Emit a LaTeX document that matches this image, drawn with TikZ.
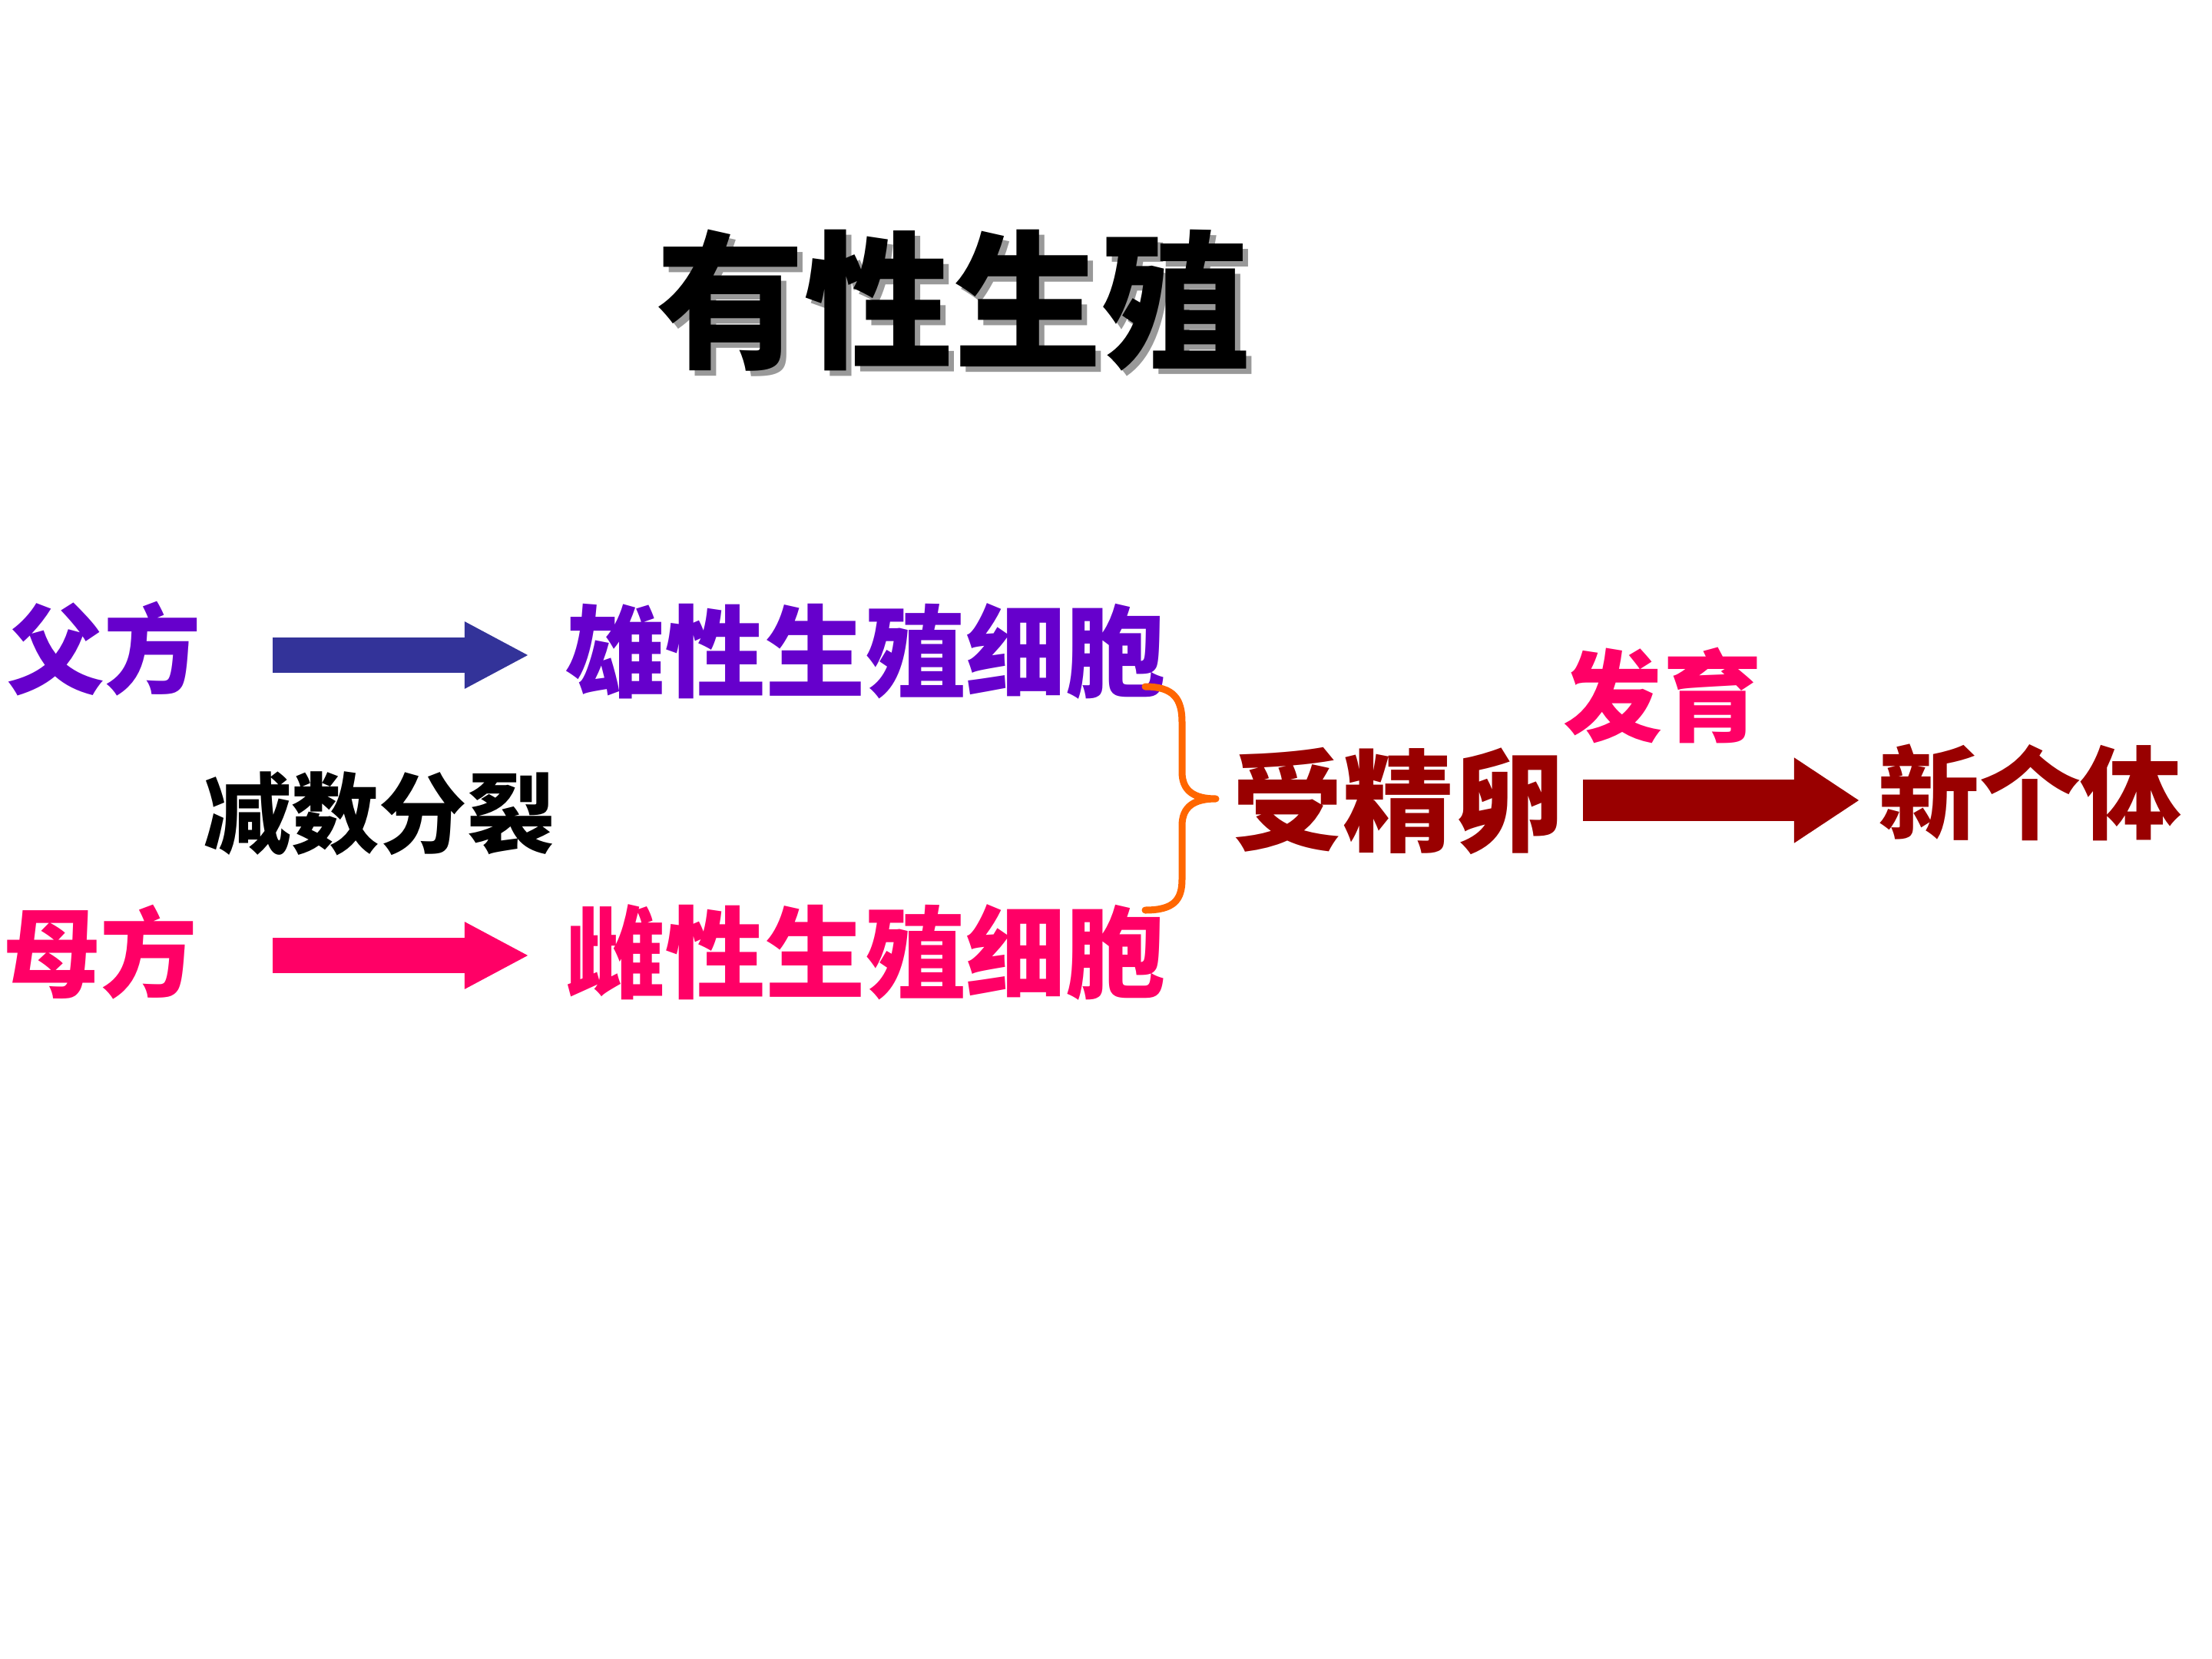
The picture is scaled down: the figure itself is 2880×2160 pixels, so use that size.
\documentclass[tikz,border=0pt]{standalone}
\usepackage{fontspec}
\newfontfamily\cjk{Noto Sans CJK SC}
\usetikzlibrary{arrows.meta}
\definecolor{cpurple}{HTML}{6600CC}
\definecolor{cpink}{HTML}{FF0066}
\definecolor{cdred}{HTML}{990000}
\definecolor{corange}{HTML}{FF6600}
\definecolor{cblue}{HTML}{333399}
\tikzset{
  txt/.style={inner sep=0pt, anchor=center, font=\cjk\bfseries},
  blockarrow/.style={line width=0.46cm, -{Triangle[length=0.84cm, width=0.81cm]}},
  bigarrow/.style={line width=0.53cm, -{Triangle[length=0.85cm, width=1.05cm]}},
  bracestyle/.style={draw=corange, line width=0.09cm, line cap=round, line join=round}
}
\newcommand{\shadowtext}[1]{\rlap{\kern0.07cm\raisebox{-0.07cm}{\textcolor{black!40}{#1}}}#1}
\begin{document}
\begin{tikzpicture}[x=0.01cm, y=-0.01cm]
\useasboundingbox[fill=white] (0,0) rectangle (2880,2160);
% title with shadow
\node[txt, text=black, font=\cjk\bfseries\fontsize{55pt}{60pt}\selectfont] (title) at (1241,395) {\shadowtext{有性生殖}};
% left column
\node[txt, text=cpurple, font=\cjk\bfseries\fontsize{36pt}{40pt}\selectfont] (fa) at (136,845) {父方};
\node[txt, text=cpink, font=\cjk\bfseries\fontsize{36pt}{40pt}\selectfont] (mu) at (131,1240) {母方};
\node[txt, text=black, font=\cjk\bfseries\fontsize{32.5pt}{36pt}\selectfont] (jian) at (494,1059) {减数分裂};
% gametes
\node[txt, text=cpurple, font=\cjk\bfseries\fontsize{37pt}{40pt}\selectfont] (xiong) at (1127,848) {雄性生殖细胞};
\node[txt, text=cpink, font=\cjk\bfseries\fontsize{37pt}{40pt}\selectfont] (ci) at (1127,1240) {雌性生殖细胞};
% zygote, development, new individual
\node[txt, text=cdred, font=\cjk\bfseries\fontsize{41pt}{44pt}\selectfont] (shou) at (1821,1043) {受精卵};
\node[txt, text=cpink, font=\cjk\bfseries\fontsize{36.7pt}{40pt}\selectfont] (fayu) at (2165,905) {发育};
\node[txt, text=cdred, font=\cjk\bfseries\fontsize{37.5pt}{40pt}\selectfont] (xin) at (2643,1032) {新个体};
% arrow end points
\coordinate (a1s) at (355,853);
\coordinate (a1e) at (689,853);
\coordinate (a2s) at (355,1244);
\coordinate (a2e) at (689,1244);
\coordinate (a3s) at (2061,1042);
\coordinate (a3e) at (2421,1042);
\draw[blockarrow, draw=cblue, color=cblue] (a1s) -- (a1e);
\draw[blockarrow, draw=cpink, color=cpink] (a2s) -- (a2e);
\draw[bigarrow, draw=cdred, color=cdred] (a3s) -- (a3e);
% brace
\coordinate (btop) at (1491,894);
\coordinate (btip) at (1583,1040);
\coordinate (bbot) at (1491,1185);
\draw[bracestyle] (btop) .. controls (1528,894) and (1539,910) .. (1539,940) -- (1539,1005)
  .. controls (1539,1030) and (1555,1040) .. (btip)
  .. controls (1555,1040) and (1539,1050) .. (1539,1075) -- (1539,1145)
  .. controls (1539,1172) and (1528,1185) .. (bbot);
\end{tikzpicture}
\end{document}
